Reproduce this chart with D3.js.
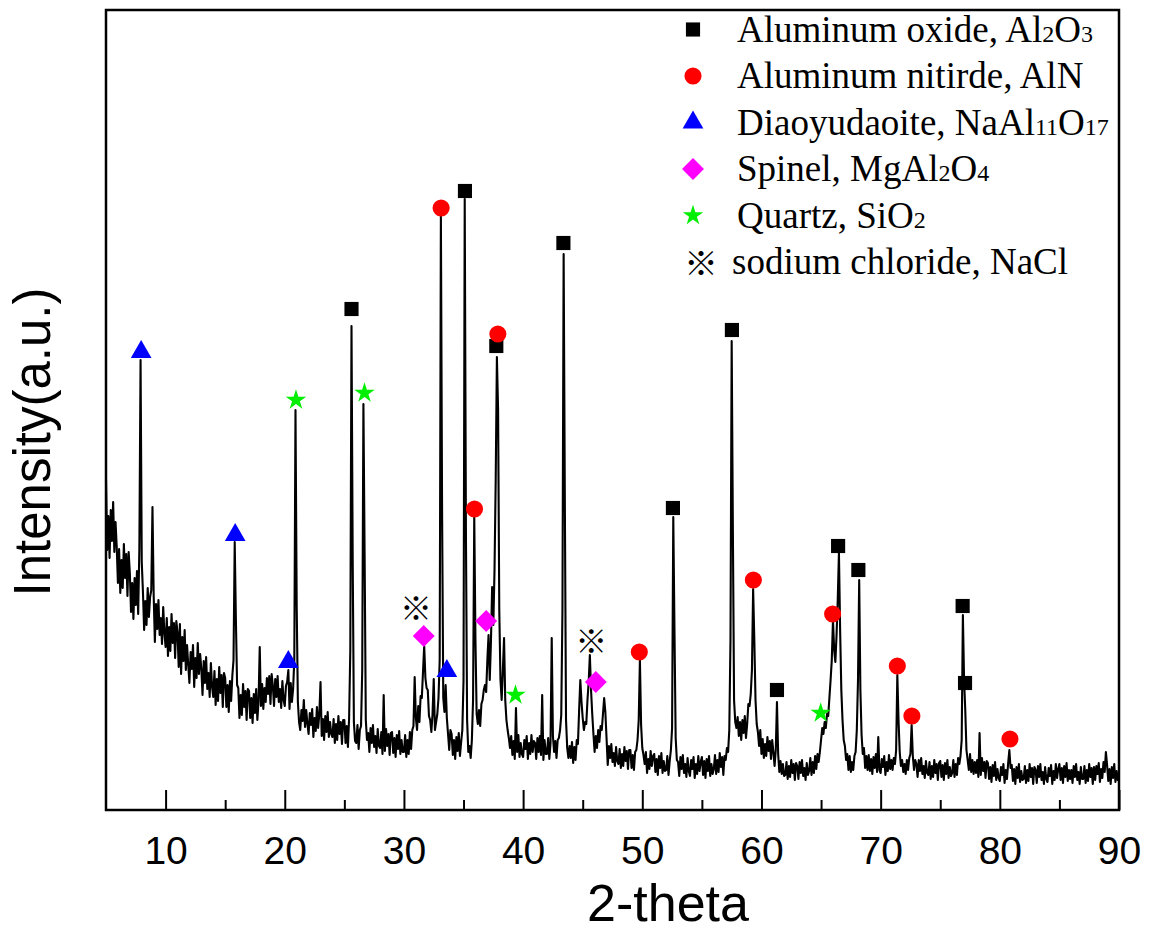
<!DOCTYPE html>
<html>
<head>
<meta charset="utf-8">
<script src="https://cdn.jsdelivr.net/npm/d3@7"></script>
<style>
  html, body { margin: 0; padding: 0; background: #fff; }
  svg { display: block; }
</style>
</head>
<body>
<svg id="chart" width="1150" height="932"></svg>
<script>
// XRD pattern, sampled every 0.1 degree from 5 to 90 (2-theta), arbitrary units
const thetaStart = 5
const thetaStep = 0.1
const intensity = [
  330, 260, 294, 252, 300, 269, 308, 258, 288, 263, // 5
  227, 261, 217, 250, 222, 266, 232, 256, 214, 258, // 6
  237, 198, 227, 191, 232, 205, 239, 196, 262, 450, // 7
  248, 218, 180, 209, 185, 222, 193, 213, 220, 303, // 8
  215, 168, 206, 181, 210, 175, 192, 166, 203, 177, // 9
  163, 192, 154, 183, 159, 196, 167, 187, 152, 189, // 10
  178, 143, 186, 136, 173, 149, 180, 140, 165, 145, // 11
  127, 158, 141, 165, 123, 152, 132, 167, 136, 156, // 12
  141, 115, 149, 127, 153, 121, 137, 113, 147, 123, // 13
  113, 139, 105, 131, 109, 143, 117, 135, 103, 137, // 14
  132, 103, 125, 98, 129, 109, 134, 150, 268, 190,  // 15
  125, 122, 92, 115, 95, 126, 103, 119, 90, 121,    // 16
  119, 92, 112, 87, 116, 97, 121, 90, 109, 163,     // 17
  104, 126, 101, 122, 108, 132, 116, 134, 106, 136, // 18
  124, 104, 131, 113, 134, 108, 121, 102, 129, 110, // 19
  104, 124, 128, 140, 101, 127, 108, 121, 150, 400, // 20
  205, 108, 88, 80, 100, 89, 110, 83, 100, 86,      // 21
  76, 97, 85, 101, 73, 92, 79, 103, 82, 96,         // 22
  128, 74, 91, 70, 94, 78, 98, 73, 88, 76,          // 23
  73, 91, 67, 86, 70, 94, 76, 88, 66, 90,           // 24
  90, 67, 84, 63, 92, 160, 484, 250, 88, 69,        // 25
  67, 85, 61, 80, 84, 140, 406, 255, 90, 70,        // 26
  77, 58, 82, 67, 85, 63, 74, 57, 81, 64,           // 27
  62, 78, 56, 115, 59, 81, 64, 76, 55, 77,          // 28
  78, 57, 72, 53, 75, 61, 79, 56, 70, 58,           // 29
  58, 75, 53, 70, 56, 78, 61, 80, 84, 133,          // 30
  92, 80, 104, 88, 114, 112, 138, 164, 132, 122,    // 31
  120, 94, 90, 78, 96, 131, 80, 88, 96, 112,        // 32
  150, 595, 300, 112, 98, 125, 92, 76, 60, 80,      // 33
  76, 55, 70, 51, 73, 59, 77, 54, 68, 80,           // 34
  130, 611, 280, 90, 58, 64, 52, 70, 110, 293,      // 35
  170, 96, 86, 100, 84, 106, 110, 120, 125, 118,    // 36
  150, 175, 130, 168, 223, 185, 240, 330, 453, 400, // 37
  200, 130, 110, 140, 172, 110, 90, 80, 72, 62,     // 38
  74, 55, 69, 51, 102, 58, 75, 53, 67, 56,          // 39
  53, 70, 61, 74, 51, 67, 56, 75, 58, 69,           // 40
  67, 51, 72, 58, 74, 55, 115, 50, 70, 56,          // 41
  56, 72, 51, 67, 172, 74, 58, 69, 52, 70,          // 42
  72, 80, 95, 200, 556, 310, 90, 62, 52, 64,        // 43
  52, 68, 47, 63, 50, 70, 66, 100, 130, 108,        // 44
  92, 80, 88, 86, 110, 128, 155, 120, 96, 76,       // 45
  58, 74, 62, 80, 68, 84, 80, 96, 112, 98,          // 46
  72, 45, 64, 52, 66, 48, 57, 44, 63, 49,           // 47
  46, 61, 42, 56, 44, 63, 49, 59, 41, 60,           // 48
  60, 42, 55, 40, 58, 60, 70, 90, 150, 85,          // 49
  62, 55, 46, 58, 37, 51, 41, 59, 44, 54,           // 50
  56, 38, 51, 35, 54, 42, 57, 37, 49, 39,           // 51
  40, 54, 35, 49, 60, 82, 293, 180, 72, 50,         // 52
  48, 34, 53, 41, 55, 37, 46, 33, 52, 39,           // 53
  34, 50, 41, 53, 32, 46, 36, 54, 39, 48,           // 54
  53, 35, 49, 32, 51, 39, 54, 34, 46, 36,           // 55
  41, 55, 36, 50, 38, 57, 43, 53, 35, 54,           // 56
  50, 62, 58, 80, 170, 469, 280, 110, 88, 82,       // 57
  93, 74, 88, 70, 90, 77, 94, 72, 86, 106,          // 58
  104, 116, 140, 221, 170, 110, 86, 78, 64, 80,     // 59
  56, 71, 52, 66, 54, 73, 59, 69, 51, 70,           // 60
  58, 44, 60, 108, 56, 38, 49, 36, 46, 34,          // 61
  35, 48, 31, 44, 33, 50, 37, 46, 30, 47,           // 62
  44, 31, 48, 37, 50, 34, 42, 30, 47, 35,           // 63
  39, 52, 35, 48, 37, 54, 41, 56, 48, 58,           // 64
  70, 82, 76, 88, 82, 96, 94, 112, 130, 150,        // 65
  190, 160, 148, 175, 210, 257, 180, 120, 90, 70,   // 66
  64, 50, 56, 40, 54, 38, 48, 40, 54, 58,           // 67
  80, 130, 230, 120, 75, 56, 62, 42, 54, 40,        // 68
  55, 39, 51, 36, 53, 42, 56, 38, 73, 40,           // 69
  37, 51, 43, 54, 35, 48, 39, 55, 41, 50,           // 70
  40, 52, 46, 60, 135, 90, 58, 44, 50, 38,          // 71
  46, 36, 50, 40, 52, 56, 85, 54, 40, 50,           // 72
  46, 33, 50, 39, 52, 36, 44, 32, 49, 37,           // 73
  35, 48, 31, 44, 33, 50, 37, 46, 30, 47,           // 74
  49, 33, 45, 30, 47, 36, 50, 32, 43, 34,           // 75
  37, 50, 33, 46, 35, 52, 46, 54, 70, 195,          // 76
  130, 100, 60, 50, 40, 56, 38, 50, 36, 48,         // 77
  37, 50, 33, 77, 35, 52, 39, 48, 32, 49,           // 78
  47, 31, 43, 28, 45, 34, 48, 30, 41, 32,           // 79
  29, 43, 35, 46, 27, 40, 31, 47, 60, 42,           // 80
  45, 29, 41, 26, 43, 32, 46, 28, 39, 30,           // 81
  31, 44, 27, 40, 29, 46, 33, 42, 26, 43,           // 82
  40, 27, 44, 33, 46, 30, 38, 26, 43, 31,           // 83
  28, 42, 34, 45, 26, 39, 30, 46, 32, 41,           // 84
  46, 30, 42, 27, 44, 33, 47, 29, 40, 31,           // 85
  40, 27, 44, 33, 46, 30, 38, 26, 43, 31,           // 86
  31, 44, 27, 40, 29, 46, 33, 42, 26, 43,           // 87
  30, 44, 36, 47, 28, 41, 32, 48, 38, 58,           // 88
  45, 29, 41, 26, 43, 32, 46, 28, 39, 30,           // 89
  36                                                // 90
]

// phase markers: [2-theta, intensity]
const aluminaMarks = [[25.6, 501], [35.12, 619], [37.75, 464], [43.38, 567], [52.57, 302], [57.52, 480],
  [61.3, 120], [66.43, 264], [68.13, 240], [76.88, 204], [77.08, 127]]
const alnMarks = [[33.12, 602], [35.92, 301], [37.88, 476], [49.75, 158], [59.32, 230], [65.97, 196],
  [71.4, 144], [72.62, 94], [80.85, 71]]
const diaoyudaoiteMarks = [[7.95, 458], [15.84, 275], [20.3, 148], [33.6, 139]]
const spinelMarks = [[31.66, 174], [36.9, 189], [46.1, 128]]
const quartzMarks = [[20.94, 410], [26.69, 417], [39.36, 115], [64.97, 97]]
const naclMarks = [[31.02, 204], [45.72, 171]]

const xTicks = [10, 20, 30, 40, 50, 60, 70, 80, 90]
const xMinorTicks = [15, 25, 35, 45, 55, 65, 75, 85]

// legend labels, [text, isSubscript]
const legendLabels = [
  [["Aluminum oxide, Al", false], ["2", true], ["O", false], ["3", true]],
  [["Aluminum nitirde, AlN", false]],
  [["Diaoyudaoite, NaAl", false], ["11", true], ["O", false], ["17", true]],
  [["Spinel, MgAl", false], ["2", true], ["O", false], ["4", true]],
  [["Quartz, SiO", false], ["2", true]],
  [["sodium chloride, NaCl", false]]
]

const sansFont = "'Liberation Sans', Arial, Helvetica, sans-serif"
const serifFont = "'Liberation Serif', 'Times New Roman', serif"
const cjkFont = "'Noto Sans CJK JP', 'Noto Sans CJK SC', 'DejaVu Sans', sans-serif"

const svg = d3.select("#chart")

const x = d3.scaleLinear().domain([5, 90]).range([106, 1119])
const y = d3.scaleLinear().domain([0, 800]).range([810, 10])

// pattern
const line = d3.line()
  .x((d, i) => x(thetaStart + i * thetaStep))
  .y(d => y(d))

svg.append("path")
  .datum(intensity)
  .attr("d", line)
  .attr("fill", "none")
  .attr("stroke", "#000")
  .attr("stroke-width", 2.1)
  .attr("stroke-linejoin", "round")

// frame
svg.append("rect")
  .attr("x", x(5))
  .attr("y", y(800))
  .attr("width", x(90) - x(5))
  .attr("height", y(0) - y(800))
  .attr("fill", "none")
  .attr("stroke", "#000")
  .attr("stroke-width", 2.5)

// bottom axis, ticks pointing inward
svg.append("g")
  .attr("transform", `translate(0,${y(0)})`)
  .call(d3.axisBottom(x).tickValues(xTicks).tickSizeInner(-20).tickSizeOuter(0)
    .tickPadding(26).tickFormat(d3.format("d")))
  .call(g => g.select(".domain").remove())
  .call(g => g.selectAll(".tick line").attr("stroke", "#000").attr("stroke-width", 2))
  .call(g => g.selectAll(".tick text")
    .attr("font-size", 39)
    .attr("font-family", sansFont)
    .attr("fill", "#000"))

svg.append("g")
  .attr("transform", `translate(0,${y(0)})`)
  .call(d3.axisBottom(x).tickValues(xMinorTicks).tickSizeInner(-10).tickSizeOuter(0).tickFormat(""))
  .call(g => g.select(".domain").remove())
  .call(g => g.selectAll(".tick line").attr("stroke", "#000").attr("stroke-width", 2))

// axis titles
svg.append("text")
  .attr("x", 668)
  .attr("y", 921)
  .attr("text-anchor", "middle")
  .attr("font-family", sansFont)
  .attr("font-size", 52)
  .text("2-theta")

svg.append("text")
  .attr("transform", "translate(50,442) rotate(-90)")
  .attr("text-anchor", "middle")
  .attr("font-family", sansFont)
  .attr("font-size", 51)
  .text("Intensity(a.u.)")

// phase symbols
const phases = [
  { marks: aluminaMarks, type: d3.symbolSquare, size: 200, color: "#000000", rotate: 0 },
  { marks: alnMarks, type: d3.symbolCircle, size: 230, color: "#ff0000", rotate: 0 },
  { marks: diaoyudaoiteMarks, type: d3.symbolTriangle, size: 186, color: "#0000ff", rotate: 0 },
  { marks: spinelMarks, type: d3.symbolSquare, size: 240, color: "#ff00ff", rotate: 45 },
  { marks: quartzMarks, type: d3.symbolStar, size: 130, color: "#00ee00", rotate: 0 }
]

phases.forEach(p => {
  svg.append("g")
    .selectAll("path")
    .data(p.marks)
    .join("path")
    .attr("transform", d => `translate(${x(d[0])},${y(d[1])}) rotate(${p.rotate})`)
    .attr("d", d3.symbol(p.type, p.size))
    .attr("fill", p.color)
})

svg.append("g")
  .selectAll("text")
  .data(naclMarks)
  .join("text")
  .attr("x", d => x(d[0]))
  .attr("y", d => y(d[1]))
  .attr("text-anchor", "middle")
  .attr("dominant-baseline", "central")
  .attr("font-family", cjkFont)
  .attr("font-size", 32)
  .text("\u203B")

// legend
const legend = svg.append("g").attr("font-family", serifFont)
const legendX = 693
const legendTextX = 737
const legendTop = 41.5
const legendGap = 46.5

legendLabels.forEach((parts, i) => {
  const baseY = legendTop + i * legendGap
  if (i < phases.length) {
    const p = phases[i]
    legend.append("path")
      .attr("transform", `translate(${legendX},${baseY - 12}) rotate(${p.rotate})`)
      .attr("d", d3.symbol(p.type, p.size))
      .attr("fill", p.color)
  } else {
    legend.append("text")
      .attr("x", legendX + 8)
      .attr("y", baseY - 13)
      .attr("text-anchor", "middle")
      .attr("dominant-baseline", "central")
      .attr("font-family", cjkFont)
      .attr("font-size", 34)
      .text("\u203B")
  }
  const t = legend.append("text")
    .attr("x", i < phases.length ? legendTextX : legendTextX - 5)
    .attr("y", baseY)
    .attr("font-size", 37)
    .attr("fill", "#000")
  parts.forEach(([s, sub]) => {
    t.append("tspan").attr("font-size", sub ? 24 : 37).text(s)
  })
})
</script>
</body>
</html>
